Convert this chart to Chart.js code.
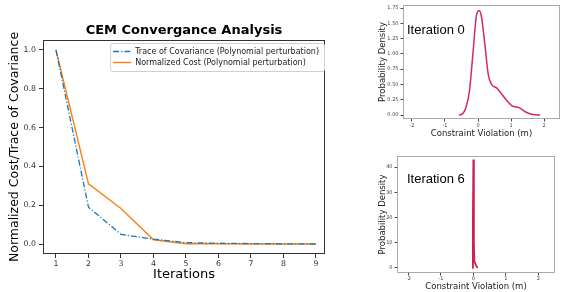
<!DOCTYPE html>
<html>
<head>
<meta charset="utf-8">
<script src="https://cdn.jsdelivr.net/npm/chart.js@4.4.0/dist/chart.umd.min.js"></script>
<style>
body { margin: 0; background: #fff; width: 586px; height: 292px; overflow: hidden; position: relative; }
.box { position: absolute; }
</style>
</head>
<body>
<div class="box" style="left:0;top:0;width:330px;height:292px"><canvas id="main"></canvas></div>
<div class="box" style="left:360px;top:0;width:226px;height:150px"><canvas id="iter0"></canvas></div>
<div class="box" style="left:360px;top:145px;width:226px;height:147px"><canvas id="iter6"></canvas></div>
<script>
// convergence curves
var iterations = [1, 2, 3, 4, 5, 6, 7, 8, 9];
var traceCov = [1.0, 0.19, 0.05, 0.025, 0.007, 0.004, 0.002, 0.001, 0.0];
var normCost = [1.0, 0.31, 0.183, 0.022, 0.001, 0.001, 0.0, 0.0, 0.0];
var yTicks = [0.0, 0.2, 0.4, 0.6, 0.8, 1.0];

// constraint violation densities
var iter0X = [-0.58, -0.45, -0.36, -0.26, -0.15, -0.05, 0.03, 0.10, 0.21, 0.31, 0.41, 0.57, 0.72, 0.88, 1.03, 1.24, 1.44, 1.65, 1.88];
var iter0Y = [0.0, 0.03, 0.13, 0.39, 1.03, 1.62, 1.71, 1.62, 1.14, 0.66, 0.50, 0.44, 0.34, 0.23, 0.15, 0.12, 0.05, 0.01, 0.0];
var iter6X = [-0.04, -0.015, 0.0, 0.015, 0.03, 0.05, 0.08, 0.13];
var iter6Y = [0.0, 20, 43, 10, 2.5, 2.0, 1.0, 0.0];
var densXTicks = [-2, -1, 0, 1, 2];
var iter0YTicks = [0, 0.25, 0.5, 0.75, 1.0, 1.25, 1.5, 1.75];
var iter6YTicks = [0, 10, 20, 30, 40];

var MPL = 'DejaVu Sans';

function toPoints(xs, ys) {
    return xs.map(function (x, i) { return {x: x, y: ys[i]}; });
}

var framePlugin = {
    id: 'frame',
    afterDatasetsDraw: function (chart, args, opts) {
        var a = chart.chartArea, ctx = chart.ctx;
        ctx.save();
        ctx.strokeStyle = opts.color || '#333';
        ctx.lineWidth = 1;
        ctx.strokeRect(Math.round(a.left) + 0.5, Math.round(a.top) + 0.5,
            Math.round(a.right - a.left) - 1, Math.round(a.bottom - a.top) - 1);
        ctx.restore();
    }
};

// matplotlib style legend box in the upper right corner
var boxLegend = {
    id: 'boxLegend',
    afterDraw: function (chart) {
        var a = chart.chartArea, ctx = chart.ctx;
        ctx.save();
        ctx.font = '8px "' + MPL + '"';
        var texts = chart.data.datasets.map(function (d) { return d.label; });
        var w = Math.max.apply(null, texts.map(function (t) { return ctx.measureText(t).width; })) + 30;
        var h = 28;
        var x0 = a.right - 1 - w, y0 = a.top + 3;
        ctx.fillStyle = 'rgba(255,255,255,0.85)';
        ctx.strokeStyle = '#d0d0d0';
        ctx.beginPath();
        ctx.roundRect(x0 + 0.5, y0 + 0.5, w, h, 2);
        ctx.fill();
        ctx.stroke();
        chart.data.datasets.forEach(function (d, i) {
            var y = y0 + 8.5 + i * 11;
            ctx.strokeStyle = d.borderColor;
            ctx.lineWidth = d.borderWidth;
            ctx.setLineDash(d.borderDash || []);
            ctx.beginPath();
            ctx.moveTo(x0 + 3, y);
            ctx.lineTo(x0 + 21, y);
            ctx.stroke();
            ctx.setLineDash([]);
            ctx.fillStyle = '#222';
            ctx.textBaseline = 'middle';
            ctx.fillText(d.label, x0 + 25, y);
        });
        ctx.restore();
    }
};

var panelLabel = {
    id: 'panelLabel',
    afterDraw: function (chart, args, opts) {
        var ctx = chart.ctx;
        ctx.save();
        ctx.font = '13px "Liberation Sans"';
        ctx.fillStyle = '#000';
        ctx.textBaseline = 'middle';
        ctx.fillText(opts.text, opts.x, opts.y);
        ctx.restore();
    }
};

new Chart(document.getElementById('main'), {
    type: 'line',
    data: {
        datasets: [
            {
                label: 'Trace of Covariance (Polynomial perturbation)',
                data: toPoints(iterations, traceCov),
                borderColor: '#1f77b4',
                borderWidth: 1.3,
                borderDash: [6, 2, 1.2, 2],
                pointRadius: 0,
                tension: 0
            },
            {
                label: 'Normalized Cost (Polynomial perturbation)',
                data: toPoints(iterations, normCost),
                borderColor: '#ff7f0e',
                borderWidth: 1.4,
                pointRadius: 0,
                tension: 0
            }
        ]
    },
    options: {
        responsive: true,
        maintainAspectRatio: false,
        animation: false,
        layout: {padding: {left: 0, right: 5, top: 0, bottom: 0}},
        plugins: {
            legend: {display: false},
            tooltip: {enabled: false},
            title: {
                display: true,
                text: 'CEM Convergance Analysis',
                fullSize: false,
                color: '#000',
                font: {family: MPL, size: 13, weight: 'bold'},
                padding: {top: 23, bottom: 1.4}
            },
            frame: {color: '#333'}
        },
        scales: {
            x: {
                type: 'linear',
                min: 0.6,
                max: 9.28,
                afterFit: function (s) { s.height = 38; },
                afterBuildTicks: function (s) {
                    s.ticks = iterations.map(function (v) { return {value: v}; });
                },
                ticks: {font: {family: MPL, size: 7.8}, color: '#333', padding: 1, maxRotation: 0},
                grid: {drawOnChartArea: false, tickLength: 4, color: '#333'},
                border: {display: false},
                title: {display: true, text: 'Iterations', color: '#000',
                    font: {family: MPL, size: 13}, padding: {top: 0, bottom: 9.2}}
            },
            y: {
                min: -0.0515,
                max: 1.0515,
                afterFit: function (s) { s.width = 43; },
                afterBuildTicks: function (s) {
                    s.ticks = yTicks.map(function (v) { return {value: v}; });
                },
                ticks: {font: {family: MPL, size: 7.8}, color: '#333', padding: 3,
                    callback: function (v) { return v.toFixed(1); }},
                grid: {drawOnChartArea: false, tickLength: 4, color: '#333'},
                border: {display: false},
                title: {display: true, text: 'Normalized Cost/Trace of Covariance', color: '#000',
                    font: {family: MPL, size: 12.5}, padding: {top: 7.5, bottom: 0}}
            }
        }
    },
    plugins: [framePlugin, boxLegend]
});

function buildDensity(canvasId, xs, ys, cfg) {
    new Chart(document.getElementById(canvasId), {
        type: 'line',
        data: {
            datasets: [{
                data: toPoints(xs, ys),
                borderColor: cfg.color,
                borderWidth: cfg.lineWidth,
                pointRadius: 0,
                cubicInterpolationMode: cfg.smooth ? 'monotone' : 'default',
                tension: 0
            }]
        },
        options: {
            responsive: true,
            maintainAspectRatio: false,
            animation: false,
            layout: {padding: cfg.padding},
            plugins: {
                legend: {display: false},
                tooltip: {enabled: false},
                frame: {color: '#aaa'},
                panelLabel: {text: cfg.label, x: 47, y: cfg.labelY}
            },
            scales: {
                x: {
                    type: 'linear',
                    min: cfg.xMin,
                    max: cfg.xMax,
                    afterFit: function (s) { s.height = cfg.xHeight; },
                    afterBuildTicks: function (s) {
                        s.ticks = densXTicks.map(function (v) { return {value: v}; });
                    },
                    ticks: {font: {family: MPL, size: 5}, color: '#444', padding: cfg.xTickPad, maxRotation: 0},
                    grid: {drawOnChartArea: false, tickLength: 2.5, color: '#444'},
                    border: {display: false},
                    title: {display: true, text: 'Constraint Violation (m)', color: '#222',
                        font: {family: MPL, size: 8.5}, padding: {top: 0, bottom: cfg.xTitlePad}}
                },
                y: {
                    min: cfg.yMin,
                    max: cfg.yMax,
                    afterFit: function (s) { s.width = cfg.yWidth; },
                    afterBuildTicks: function (s) {
                        s.ticks = cfg.yTicks.map(function (v) { return {value: v}; });
                    },
                    ticks: {font: {family: MPL, size: 5}, color: '#444', padding: 2,
                        callback: cfg.yFormat},
                    grid: {drawOnChartArea: false, tickLength: 2.5, color: '#444'},
                    border: {display: false},
                    title: {display: true, text: 'Probability Density', color: '#222',
                        font: {family: MPL, size: 8.5}, padding: {top: cfg.yTitlePad, bottom: 0}}
                }
            }
        },
        plugins: [framePlugin, panelLabel]
    });
}

buildDensity('iter0', iter0X, iter0Y, {
    label: 'Iteration 0', labelY: 30,
    color: '#d42a5c', lineWidth: 1.5, smooth: true,
    padding: {left: 0, right: 26, top: 2, bottom: 0},
    xMin: -2.27, xMax: 2.48, yMin: -0.065, yMax: 1.80,
    xHeight: 31, yWidth: 43, xTickPad: 1, xTitlePad: 10.9, yTitlePad: 17.9,
    yTicks: iter0YTicks,
    yFormat: function (v) { return v.toFixed(2); }
});

buildDensity('iter6', iter6X, iter6Y, {
    label: 'Iteration 6', labelY: 34,
    color: '#cc2050', lineWidth: 1.8, smooth: false,
    padding: {left: 0, right: 31, top: 11, bottom: 0},
    xMin: -2.35, xMax: 2.51, yMin: -2.0, yMax: 44.4,
    xHeight: 19, yWidth: 37, xTickPad: 0, xTitlePad: 0.2, yTitlePad: 17.9,
    yTicks: iter6YTicks,
    yFormat: function (v) { return String(v); }
});
</script>
</body>
</html>
